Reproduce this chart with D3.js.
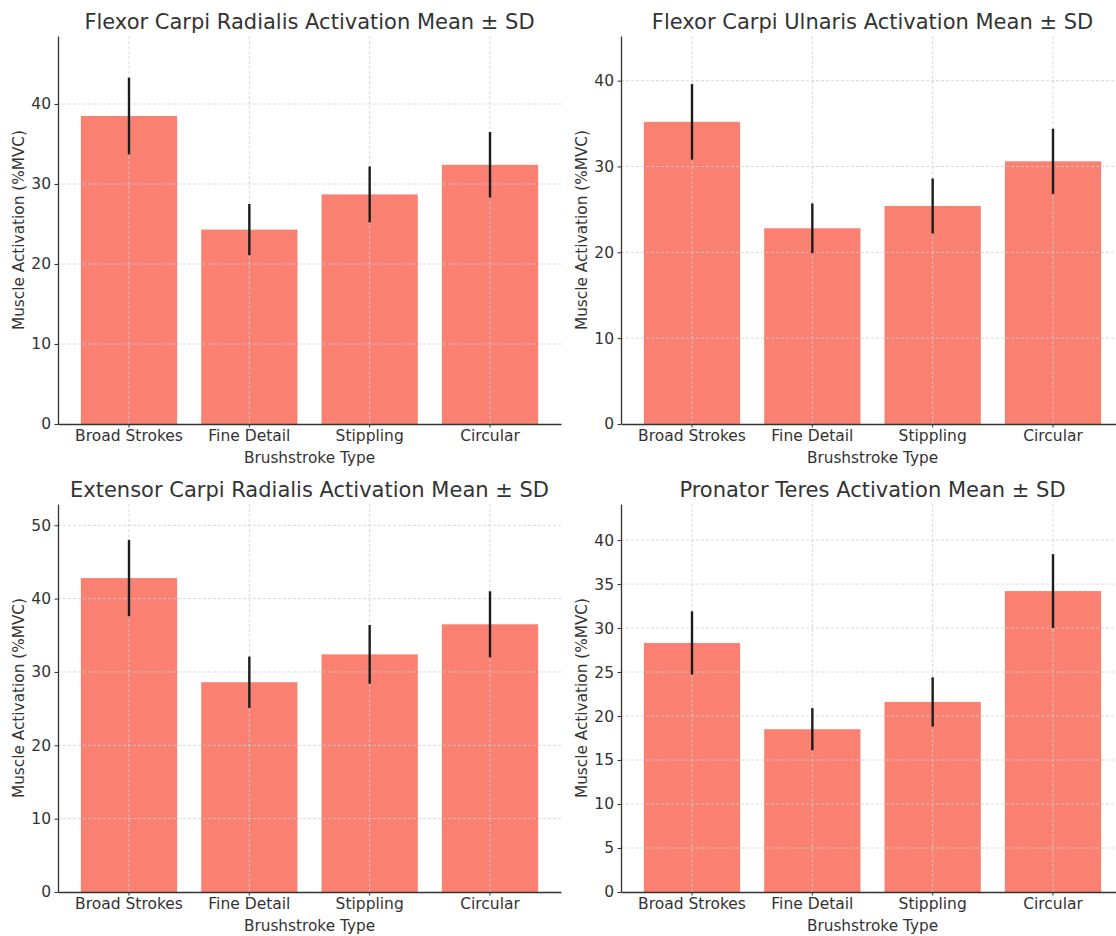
<!DOCTYPE html>
<html>
<head>
<meta charset="utf-8">
<script src="https://cdn.jsdelivr.net/npm/d3@7"></script>
<style>
  html, body { margin: 0; padding: 0; background: #fff; }
  svg { display: block; }
  text { font-family: "DejaVu Sans", sans-serif; fill: #333; }
</style>
</head>
<body>
<svg id="chart" width="1116" height="936"></svg>
<script>
// Brushstroke categories shared by every panel
const categories = ["Broad Strokes", "Fine Detail", "Stippling", "Circular"];

// Muscle names (panel titles)
const muscles = [
  "Flexor Carpi Radialis",
  "Flexor Carpi Ulnaris",
  "Extensor Carpi Radialis",
  "Pronator Teres"
];

// Mean activation (%MVC) per brushstroke type
const fcrMean = [38.5, 24.3, 28.7, 32.4];
const fcuMean = [35.2, 22.8, 25.4, 30.6];
const ecrMean = [42.8, 28.6, 32.4, 36.5];
const ptMean  = [28.3, 18.5, 21.6, 34.2];

// Standard deviations
const fcrSD = [4.8, 3.2, 3.5, 4.1];
const fcuSD = [4.4, 2.9, 3.2, 3.8];
const ecrSD = [5.2, 3.5, 4.0, 4.5];
const ptSD  = [3.6, 2.4, 2.8, 4.2];

// Upper limits of the y axes and their tick labels
const yMax = [48.5, 45.2, 52.9, 44.1];
const yTicks = [
  [0, 10, 20, 30, 40],
  [0, 10, 20, 30, 40],
  [0, 10, 20, 30, 40, 50],
  [0, 5, 10, 15, 20, 25, 30, 35, 40]
];

const means = [fcrMean, fcuMean, ecrMean, ptMean];
const sds = [fcrSD, fcuSD, ecrSD, ptSD];

const svg = d3.select("#chart");

// Plot-area rectangles for the 2x2 grid
const cols = [{ x0: 58, x1: 561 }, { x0: 621, x1: 1124 }];
const rows = [{ y0: 36, y1: 424 }, { y0: 504, y1: 892 }];

const barColor = "#FA8072";
const gridColor = "#cfcfcf";
const axisColor = "#333";

muscles.forEach((name, i) => {
  const c = cols[i % 2], r = rows[Math.floor(i / 2)];
  const g = svg.append("g");

  const x = d3.scaleBand()
    .domain(categories)
    .range([c.x0, c.x1])
    .paddingInner(0.2)
    .paddingOuter(0.19);

  const y = d3.scaleLinear()
    .domain([0, yMax[i]])
    .range([r.y1, r.y0]);

  const rowsData = categories.map((cat, k) => ({ cat, mean: means[i][k], sd: sds[i][k] }));

  // bars
  g.selectAll("rect.bar").data(rowsData).join("rect")
    .attr("class", "bar")
    .attr("x", d => x(d.cat))
    .attr("width", x.bandwidth())
    .attr("y", d => y(d.mean))
    .attr("height", d => y(0) - y(d.mean))
    .attr("fill", barColor);

  // dashed grid
  const grid = g.append("g")
    .attr("stroke", gridColor)
    .attr("stroke-width", 0.8)
    .attr("stroke-dasharray", "3,2");
  grid.selectAll("line.h").data(yTicks[i].filter(t => t > 0)).join("line")
    .attr("x1", c.x0).attr("x2", c.x1)
    .attr("y1", d => y(d)).attr("y2", d => y(d));
  grid.selectAll("line.v").data(categories).join("line")
    .attr("x1", d => x(d) + x.bandwidth() / 2)
    .attr("x2", d => x(d) + x.bandwidth() / 2)
    .attr("y1", r.y0).attr("y2", r.y1);

  // error bars (mean ± SD)
  g.selectAll("line.err").data(rowsData).join("line")
    .attr("class", "err")
    .attr("x1", d => x(d.cat) + x.bandwidth() / 2)
    .attr("x2", d => x(d.cat) + x.bandwidth() / 2)
    .attr("y1", d => y(d.mean - d.sd))
    .attr("y2", d => y(d.mean + d.sd))
    .attr("stroke", "#1c1c1c")
    .attr("stroke-width", 2.4);

  // axes
  const yAxis = g.append("g")
    .attr("transform", `translate(${c.x0},0)`)
    .call(d3.axisLeft(y).tickValues(yTicks[i]).tickFormat(d3.format("d"))
      .tickSize(3.5).tickPadding(3.5).tickSizeOuter(0));
  const xAxis = g.append("g")
    .attr("transform", `translate(0,${r.y1})`)
    .call(d3.axisBottom(x).tickSize(3.5).tickPadding(2.5).tickSizeOuter(0));

  [yAxis, xAxis].forEach(a => {
    a.select(".domain").attr("stroke", axisColor).attr("stroke-width", 1.3);
    a.selectAll(".tick line").attr("stroke", axisColor).attr("stroke-width", 1);
    a.selectAll(".tick text")
      .attr("fill", "#333")
      .style("font-family", '"DejaVu Sans", sans-serif')
      .style("font-size", "15.5px");
  });

  // title
  g.append("text")
    .attr("x", (c.x0 + c.x1) / 2)
    .attr("y", r.y0 - 7.5)
    .attr("text-anchor", "middle")
    .style("font-size", "21px")
    .text(`${name} Activation Mean ± SD`);

  // axis labels
  g.append("text")
    .attr("x", (c.x0 + c.x1) / 2)
    .attr("y", r.y1 + 38.5)
    .attr("text-anchor", "middle")
    .style("font-size", "15.3px")
    .text("Brushstroke Type");

  g.append("text")
    .attr("transform", `translate(${c.x0 - 34},${(r.y0 + r.y1) / 2}) rotate(-90)`)
    .attr("text-anchor", "middle")
    .style("font-size", "15.3px")
    .text("Muscle Activation (%MVC)");
});
</script>
</body>
</html>
